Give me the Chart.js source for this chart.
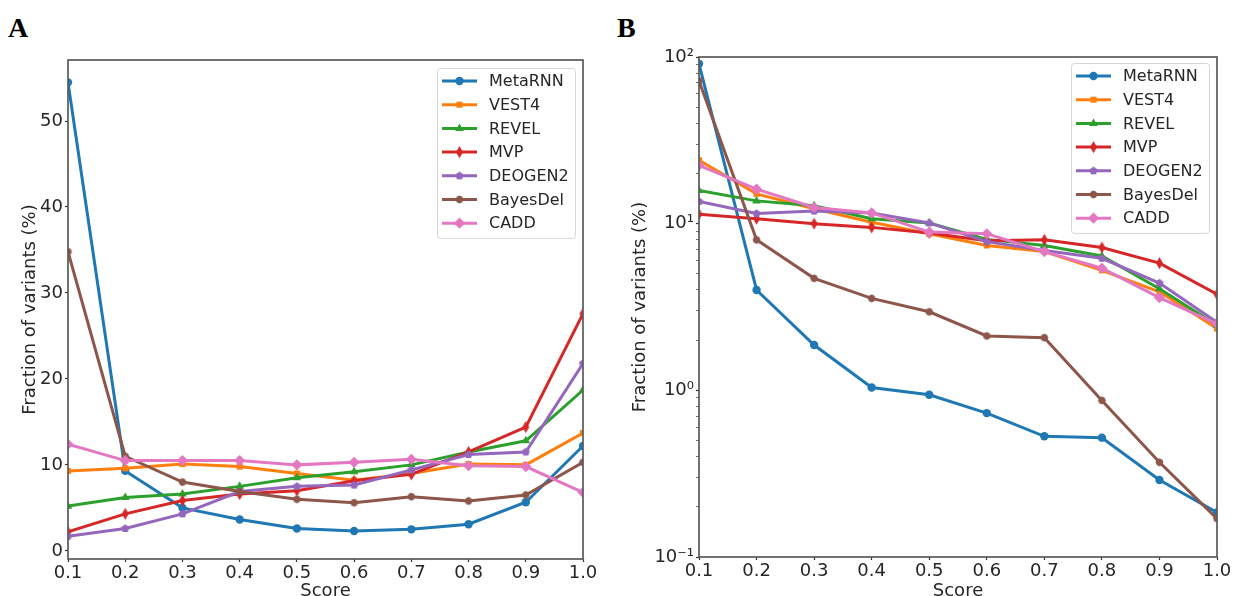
<!doctype html>
<html lang="en">
<head>
<meta charset="utf-8" />
<title>Fraction of variants by score</title>
<script src="https://cdn.jsdelivr.net/npm/chart.js"></script>
<style>
  html, body { margin: 0; padding: 0; background: #fff; }
  body { width: 1233px; height: 596px; overflow: hidden; position: relative; }
  .tag { position: absolute; top: 12px; line-height: 1; font: bold 28px "Liberation Serif", "DejaVu Serif", serif; color: #000; }
  #wrapA { position: absolute; left: 0; top: 0; }
  #wrapB { position: absolute; left: 610px; top: 0; }
</style>
</head>
<body>
  <div class="tag" style="left:8px">A</div>
  <div class="tag" style="left:617px">B</div>
  <div id="wrapA"><canvas id="chartA" width="600" height="620"></canvas></div>
  <div id="wrapB"><canvas id="chartB" width="623" height="620"></canvas></div>

<script>
// x positions (score bins) and tick labels
const scores = [0.1, 0.2, 0.3, 0.4, 0.5, 0.6, 0.7, 0.8, 0.9, 1.0];
const xTicks = [0.1, 0.2, 0.3, 0.4, 0.5, 0.6, 0.7, 0.8, 0.9, 1.0];
const yTicksA = [0, 10, 20, 30, 40, 50];
const yMajorB = [0.1, 1, 10, 100];
const yMinorB = [0.2, 0.3, 0.4, 0.5, 0.6, 0.7, 0.8, 0.9, 2, 3, 4, 5, 6, 7, 8, 9, 20, 30, 40, 50, 60, 70, 80, 90];
const yLabelsB = { 0.1: "10\u207B\u00B9", 1: "10\u2070", 10: "10\u00B9", 100: "10\u00B2" };

const names = ["MetaRNN", "VEST4", "REVEL", "MVP", "DEOGEN2", "BayesDel", "CADD"];
const colors = ["#1f77b4", "#ff7f0e", "#2ca02c", "#d62728", "#9467bd", "#8c564b", "#e377c2"];

// panel A: fraction of variants (%), linear
const metaA   = [54.5, 9.3, 5.0, 3.65, 2.6, 2.3, 2.5, 3.1, 5.65, 12.2];
const vestA   = [9.3, 9.6, 10.1, 9.8, 9.0, 8.2, 9.0, 10.1, 10.0, 13.7];
const revelA  = [5.2, 6.2, 6.6, 7.5, 8.5, 9.2, 10.0, 11.5, 12.8, 18.7];
const mvpA    = [2.2, 4.3, 5.85, 6.6, 7.0, 8.15, 8.9, 11.5, 14.4, 27.6];
const deogenA = [1.7, 2.6, 4.3, 6.9, 7.5, 7.65, 9.4, 11.2, 11.5, 21.8];
const bayesA  = [34.8, 11.0, 8.0, 6.9, 6.0, 5.6, 6.3, 5.8, 6.5, 10.3];
const caddA   = [12.4, 10.5, 10.5, 10.5, 10.0, 10.3, 10.65, 9.9, 9.8, 6.8];

// panel B: same, log scale
const metaB   = [91, 4.0, 1.87, 1.04, 0.94, 0.73, 0.53, 0.52, 0.29, 0.185];
const vestB   = [24, 15.1, 12.3, 10.2, 8.7, 7.4, 6.8, 5.25, 3.9, 2.35];
const revelB  = [15.8, 13.7, 12.8, 10.7, 10.1, 8.05, 7.4, 6.4, 4.07, 2.46];
const mvpB    = [11.4, 10.7, 10.0, 9.5, 8.8, 7.9, 8.0, 7.2, 5.8, 3.77];
const deogenB = [13.6, 11.5, 11.9, 11.6, 10.1, 7.8, 6.9, 6.2, 4.4, 2.56];
const bayesB  = [72, 8.0, 4.7, 3.56, 2.96, 2.12, 2.07, 0.87, 0.37, 0.17];
const caddB   = [22.4, 16.1, 12.5, 11.6, 8.9, 8.7, 6.8, 5.4, 3.6, 2.5];

const FONT = "'DejaVu Sans', 'Liberation Sans', sans-serif";
const INK = "#262626";

// small canvases for the markers chart.js has no built-in shape for
function makeMarker(kind, color) {
  const c = document.createElement("canvas");
  c.width = 15; c.height = 15;
  const g = c.getContext("2d");
  g.fillStyle = color;
  g.beginPath();
  if (kind === "thin") {
    g.moveTo(7.5, 1.5); g.lineTo(11, 7.5); g.lineTo(7.5, 13.5); g.lineTo(4, 7.5);
  } else {
    const n = kind === "pent" ? 5 : 8;
    const r = kind === "pent" ? 4.3 : 3.9;
    for (let k = 0; k < n; k++) {
      const ang = -Math.PI / 2 + (k * 2 * Math.PI) / n;
      const px = 7.5 + r * Math.cos(ang), py = 7.5 + r * Math.sin(ang);
      if (k === 0) g.moveTo(px, py); else g.lineTo(px, py);
    }
  }
  g.closePath();
  g.fill();
  return c;
}

const markers = [
  { style: "circle", r: 4.2 },
  { style: "rect", r: 4.3 },
  { style: "triangle", r: 5 },
  { style: makeMarker("thin", colors[3]), r: 4 },
  { style: makeMarker("pent", colors[4]), r: 4 },
  { style: makeMarker("oct", colors[5]), r: 4 },
  { style: "rectRot", r: 5.6 },
];

function buildSets(series) {
  return series.map((vals, i) => ({
    label: names[i],
    data: scores.map((s, j) => ({ x: s, y: vals[j] })),
    borderColor: colors[i],
    backgroundColor: colors[i],
    borderWidth: 3,
    pointStyle: markers[i].style,
    pointRadius: markers[i].r,
    pointBorderWidth: 0,
    pointHoverRadius: markers[i].r,
    tension: 0,
    clip: 0,
    order: series.length - i,
  }));
}

// frame on all four sides plus a matplotlib-like legend inside the axes
const frameLegend = {
  id: "frameLegend",
  afterDraw(chart) {
    const { ctx, chartArea: a } = chart;
    const opt = chart.options.plugins.frameLegend;
    ctx.save();
    ctx.strokeStyle = "#5a5a5a";
    ctx.lineWidth = 1.7;
    ctx.strokeRect(a.left, a.top, a.right - a.left, a.bottom - a.top);

    const sets = chart.data.datasets;
    const rowH = 23.7, w = 138, h = rowH * sets.length + 4;
    const x0 = a.right - 8 - w, y0 = a.top + opt.top;
    ctx.beginPath();
    ctx.roundRect(x0 + 0.5, y0 + 0.5, w, h, 3);
    ctx.fillStyle = "rgba(255,255,255,0.85)";
    ctx.fill();
    ctx.strokeStyle = "#d6d6d6";
    ctx.lineWidth = 1;
    ctx.stroke();

    ctx.font = "16px " + FONT;
    ctx.textBaseline = "middle";
    sets.forEach((ds, i) => {
      const cy = y0 + 13 + i * rowH;
      ctx.strokeStyle = ds.borderColor;
      ctx.lineWidth = 3;
      ctx.beginPath();
      ctx.moveTo(x0 + 5, cy);
      ctx.lineTo(x0 + 40, cy);
      ctx.stroke();
      ctx.fillStyle = ds.backgroundColor;
      Chart.helpers.drawPoint(ctx, { pointStyle: ds.pointStyle, radius: ds.pointRadius, borderWidth: 0, rotation: 0 }, x0 + 22.5, cy);
      ctx.fillStyle = INK;
      ctx.fillText(ds.label, x0 + 52, cy + 1);
    });
    ctx.restore();
  },
};

function xScale(height) {
  return {
    type: "linear",
    min: 0.1,
    max: 1.0,
    afterBuildTicks: (s) => { s.ticks = xTicks.map((v) => ({ value: v })); },
    afterFit: (s) => { s.height = height; },
    grid: { drawOnChartArea: false, drawTicks: true, tickLength: 3, tickColor: "#333", tickWidth: 1.2 },
    border: { display: false },
    ticks: {
      autoSkip: false, maxRotation: 0, padding: 1, color: INK,
      font: { family: FONT, size: 18 },
      callback: (v) => Number(v).toFixed(1),
    },
    title: { display: true, text: "Score", color: INK, font: { family: FONT, size: 18 }, padding: { top: 0, bottom: 18 } },
  };
}

const yTitle = {
  display: true, text: "Fraction of variants (%)", color: INK,
  font: { family: FONT, size: 18 }, padding: { top: 20, bottom: 0 },
};

Chart.defaults.animation = false;

new Chart(document.getElementById("chartA"), {
  type: "line",
  data: { datasets: buildSets([metaA, vestA, revelA, mvpA, deogenA, bayesA, caddA]) },
  options: {
    responsive: false,
    layout: { padding: { top: 60, right: 17, left: 0, bottom: 0 } },
    plugins: { legend: { display: false }, tooltip: { enabled: false }, frameLegend: { top: 8 } },
    scales: {
      x: xScale(61),
      y: {
        type: "linear",
        min: -0.95,
        max: 57.1,
        afterBuildTicks: (s) => { s.ticks = yTicksA.map((v) => ({ value: v })); },
        afterFit: (s) => { s.width = 68; },
        grid: { drawOnChartArea: false, drawTicks: true, tickLength: 3, tickColor: "#333", tickWidth: 1.2 },
        border: { display: false },
        ticks: { padding: 2, color: INK, font: { family: FONT, size: 18 } },
        title: yTitle,
      },
    },
  },
  plugins: [frameLegend],
});

const majorSet = new Set(yMajorB);
new Chart(document.getElementById("chartB"), {
  type: "line",
  data: { datasets: buildSets([metaB, vestB, revelB, mvpB, deogenB, bayesB, caddB]) },
  options: {
    responsive: false,
    layout: { padding: { top: 57, right: 16, left: 0, bottom: 0 } },
    plugins: { legend: { display: false }, tooltip: { enabled: false }, frameLegend: { top: 6 } },
    scales: {
      x: xScale(63),
      y: {
        type: "logarithmic",
        min: 0.1,
        max: 100,
        afterBuildTicks: (s) => {
          s.ticks = yMajorB.concat(yMinorB).sort((p, q) => p - q).map((v) => ({ value: v, major: majorSet.has(v) }));
        },
        afterFit: (s) => { s.width = 89; },
        grid: {
          drawOnChartArea: false, drawTicks: true, tickLength: 3, tickColor: "#333",
          tickWidth: (c) => (c.tick && majorSet.has(c.tick.value) ? 1.2 : 0.7),
        },
        border: { display: false },
        ticks: {
          autoSkip: false, padding: 2, color: INK, font: { family: FONT, size: 18 },
          callback: (v) => yLabelsB[v] || "",
        },
        title: yTitle,
      },
    },
  },
  plugins: [frameLegend],
});
</script>
</body>
</html>
